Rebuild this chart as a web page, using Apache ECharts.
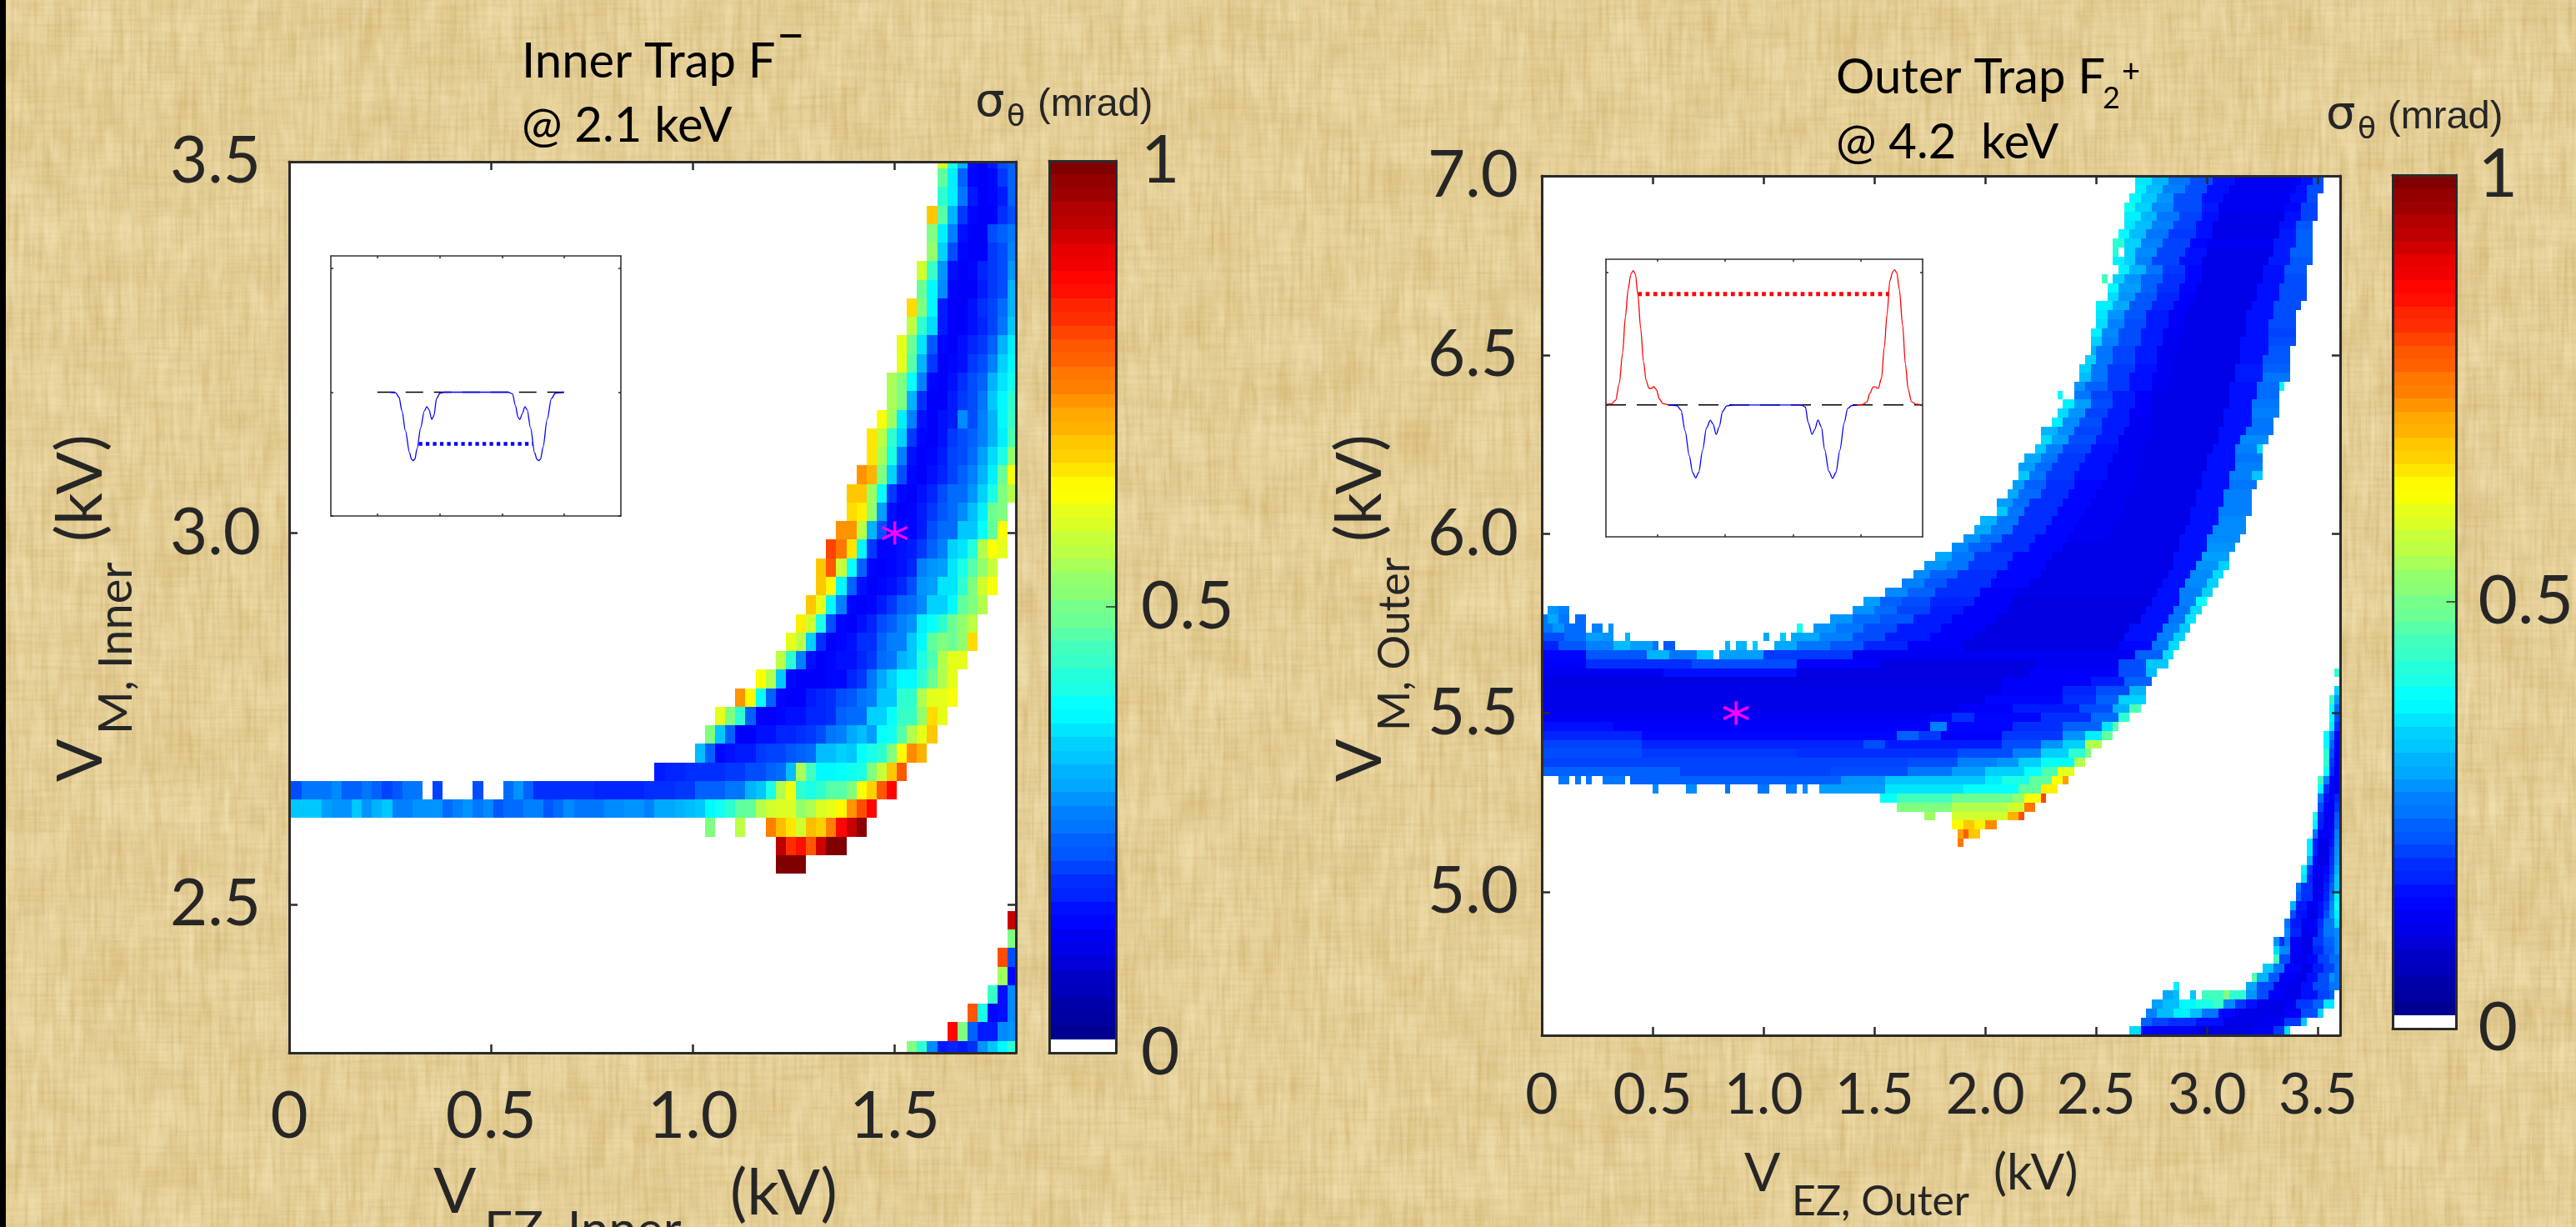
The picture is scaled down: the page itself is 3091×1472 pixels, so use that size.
<!DOCTYPE html>
<html><head><meta charset="utf-8">
<style>
html,body{margin:0;padding:0;width:3091px;height:1472px;overflow:hidden;background:#E8D49E}
#tex{position:absolute;left:0;top:0}
#strip{position:absolute;left:0;top:0;width:7px;height:1472px;background:#000}
#c{position:absolute;left:0;top:0;width:3091px;height:1472px}
</style>
<script src="https://cdn.jsdelivr.net/npm/echarts@6/dist/echarts.min.js"></script>
</head><body>
<svg id="tex" width="3091" height="1472" xmlns="http://www.w3.org/2000/svg">
 <defs>
  <filter id="fv" x="0" y="0" width="100%" height="100%" color-interpolation-filters="sRGB"><feTurbulence type="fractalNoise" baseFrequency="0.22 0.012" numOctaves="3" seed="4"/><feColorMatrix values="0 0 0 0 0.70  0 0 0 0 0.55  0 0 0 0 0.24  1.3 0 0 0 -0.50"/></filter>
  <filter id="fh" x="0" y="0" width="100%" height="100%" color-interpolation-filters="sRGB"><feTurbulence type="fractalNoise" baseFrequency="0.012 0.22" numOctaves="3" seed="9"/><feColorMatrix values="0 0 0 0 0.72  0 0 0 0 0.57  0 0 0 0 0.26  1.1 0 0 0 -0.44"/></filter>
  <filter id="fl" x="0" y="0" width="100%" height="100%" color-interpolation-filters="sRGB"><feTurbulence type="fractalNoise" baseFrequency="0.06 0.02" numOctaves="3" seed="15"/><feColorMatrix values="0 0 0 0 1  0 0 0 0 0.95  0 0 0 0 0.80  1.6 0 0 0 -0.62"/></filter>
  <filter id="fm" x="0" y="0" width="100%" height="100%" color-interpolation-filters="sRGB"><feTurbulence type="fractalNoise" baseFrequency="0.012 0.016" numOctaves="2" seed="23"/><feColorMatrix values="0 0 0 0 0.76  0 0 0 0 0.60  0 0 0 0 0.28  1.0 0 0 0 -0.38"/></filter>
 </defs>
 <rect width="3091" height="1472" filter="url(#fm)" opacity="0.35"/>
 <rect width="3091" height="1472" filter="url(#fv)" opacity="0.42"/>
 <rect width="3091" height="1472" filter="url(#fh)" opacity="0.30"/>
 <rect width="3091" height="1472" filter="url(#fl)" opacity="0.40"/>
</svg>
<div id="strip"></div>
<div id="c"></div>
<script>
// ---------- Data: sigma_theta in hundredths of a mrad ----------
// Inner map: [row, firstColumn, values...]; 0 = no beam
const innerRows = [
[0,64,58,40,30,13,12,15,20,22],
[1,64,47,36,22,13,12,13,18,22],
[2,64,42,36,24,15,12,13,15,22],
[3,63,68,46,30,18,13,12,12,17,20],
[4,63,50,36,25,14,12,12,20,22,24],
[5,63,52,33,20,13,12,12,18,20,25],
[6,62,58,43,27,14,12,13,16,18,20,27],
[7,62,48,37,26,13,12,12,15,18,20,30],
[8,61,66,50,37,15,12,12,14,17,19,23,30],
[9,61,56,42,34,15,12,12,14,16,19,24,32],
[10,60,60,48,35,21,13,12,14,16,18,22,30,36],
[11,60,60,46,30,18,12,13,14,18,20,25,33,37],
[12,59,54,50,38,25,13,12,14,17,20,22,30,35,39],
[13,59,54,50,30,17,12,12,15,18,20,24,32,37,42],
[14,58,62,53,36,25,14,12,14,15,26,20,25,30,37,43],
[15,57,65,56,42,33,18,13,12,14,18,20,22,25,30,36,45],
[16,57,65,54,40,25,14,12,13,15,19,20,23,28,34,40,52],
[17,56,73,70,50,33,20,13,12,14,16,19,22,25,30,36,48,62],
[18,55,68,68,53,38,18,13,12,14,16,20,23,23,27,33,40,50,55],
[19,55,66,64,52,28,14,12,13,15,18,21,23,26,31,36,48,50],
[20,54,73,73,56,30,20,14,13,13,15,20,23,23,32,32,38,47,62],
[21,53,81,76,65,37,18,13,13,14,15,18,22,25,33,35,41,55,62,60],
[22,52,68,79,57,38,22,13,12,13,14,16,25,27,28,35,40,46,52,57],
[23,52,68,63,37,22,14,12,13,14,16,20,27,28,35,35,42,50,58,62],
[24,51,68,60,37,25,13,12,13,15,18,22,23,26,33,33,37,47,50,55],
[25,50,64,58,40,20,13,12,14,16,20,22,25,27,36,38,42,48,52,56],
[26,49,60,56,33,17,12,13,14,17,17,22,25,25,32,37,47,50,48,52,66],
[27,48,56,42,25,14,12,13,14,14,16,18,23,24,30,32,40,45,55,60,60],
[28,46,62,55,32,13,12,12,12,13,13,16,18,24,29,33,37,37,42,48,55,60],
[29,44,73,63,38,22,13,12,12,15,16,17,20,21,24,25,32,32,42,42,55,60,60,62],
[30,42,60,50,42,22,12,12,13,14,14,16,16,17,22,23,23,33,33,38,43,43,52,66,60],
[31,41,50,32,22,12,12,14,14,16,16,17,18,20,24,25,29,31,28,38,39,46,55,60,68],
[32,40,31,22,13,14,15,15,18,19,19,21,22,23,31,31,33,32,38,40,42,50,63,74,70],
[33,36,15,16,16,17,17,17,17,18,18,20,20,22,23,31,54,44,37,37,38,39,40,50,57,68,79],
[34,-1,20,20,24,24,24,26,22,22,24,22,19,21,24,24,0,19,0,0,0,20,0,0,23,27,22,17,17,17,17,17,17,16,16,16,16,16,17,17,17,18,18,22,22,22,24,24,30,32,40,55,61,42,40,42,46,46,50,62,67,79,87],
[35,-1,32,32,32,32,28,27,27,32,27,30,32,25,25,27,27,27,23,25,27,24,26,21,23,23,25,25,21,23,26,24,24,24,26,26,27,27,25,29,29,30,31,32,37,39,42,47,47,55,58,59,59,52,54,59,60,63,73,80,87],
[36,41,50,0,0,56,0,0,75,69,65,58,69,67,75,87,93,99],
[37,48,94,83,86,79,92,100,100],
[38,48,100,100,100],
[41,71,93],
[42,71,50],
[43,70,80,20],
[44,70,53,13],
[45,69,43,14,26],
[46,67,79,40,13,14,26],
[47,65,87,50,22,15,15,26,27],
[48,61,50,42,26,15,16,15,17,27,32,37,42]
];
// Outer map, one list per row from the top: column, value, column, value, ... last column; 0 = no beam
const outerRows = [
[107,35,110,30,113,24,117,20,121,14,125,11,137,14,139,20,141],
[107,36,109,31,112,25,116,20,120,14,124,11,136,14,138,20,141],
[106,37,108,32,111,27,114,20,119,14,123,11,135,14,138,20,140],
[105,39,107,33,110,26,114,20,119,15,122,11,134,13,137,19,140],
[105,36,108,30,111,24,115,19,119,14,122,10,134,14,137,19,140],
[105,35,107,31,110,25,114,19,118,14,121,10,133,14,136,21,139],
[104,37,106,31,109,24,113,18,118,14,121,10,133,15,136,22,139],
[103,42,105,33,108,25,112,19,117,13,120,11,132,15,136,22,139],
[103,41,104,0,105,33,107,26,111,19,116,14,120,10,132,15,135,22,139],
[103,36,105,33,107,25,110,19,115,14,119,10,131,15,135,21,139],
[104,36,106,30,109,24,112,18,116,13,119,10,130,14,134,21,138],
[101,44,102,0,103,33,105,27,108,22,112,17,116,13,119,10,130,14,134,20,138],
[102,37,104,28,108,22,111,17,115,13,118,10,129,14,133,20,138],
[102,34,104,27,107,21,111,16,115,12,118,10,129,14,133,20,138],
[100,36,103,29,106,21,110,16,114,12,117,10,128,14,132,20,137],
[100,35,102,27,105,21,109,15,113,12,116,10,127,14,132,20,136],
[100,34,102,25,105,20,109,15,113,12,116,10,127,14,131,20,136],
[99,36,101,26,104,20,108,15,112,11,116,10,127,14,131,19,136],
[99,33,101,25,104,20,108,15,112,11,115,10,126,14,131,20,136],
[99,30,100,24,103,19,107,15,111,11,115,10,126,14,131,21,135],
[98,33,100,24,103,19,107,15,111,11,114,10,126,14,130,21,135],
[97,33,99,24,102,18,107,14,111,11,114,10,125,15,130,22,135],
[97,31,99,24,102,18,106,14,110,11,114,10,125,15,130,24,135],
[96,27,98,22,102,18,106,14,110,11,113,10,124,14,129,23,133,37,134],
[93,37,94,0,96,24,99,19,103,15,107,12,110,10,124,14,129,23,133],
[94,36,96,28,99,20,103,15,107,12,110,10,124,14,128,24,133],
[93,34,95,27,98,19,102,15,106,12,110,10,123,14,128,25,133],
[92,36,94,26,97,20,101,15,106,11,110,10,123,14,128,24,132],
[90,30,93,26,96,19,101,15,105,11,110,10,122,14,127,24,132],
[90,34,92,28,95,20,100,15,104,11,109,10,122,14,126,26,131],
[89,32,91,25,94,19,99,14,104,11,109,10,121,14,125,25,129,34,130],
[87,29,90,24,93,18,98,14,103,11,108,10,120,14,125,24,130],
[86,28,89,23,92,18,97,14,102,11,108,10,120,14,125,25,130],
[86,32,88,24,91,18,96,14,102,11,107,10,119,14,124,25,128,32,130],
[85,28,87,22,91,17,96,13,101,11,107,10,119,14,124,24,129],
[84,29,86,23,90,17,95,13,100,11,106,10,118,14,123,25,128],
[82,28,85,23,88,17,94,13,99,11,105,10,118,14,123,25,128],
[82,32,84,24,87,17,93,13,98,11,105,10,117,14,122,25,128],
[79,30,82,24,86,17,92,13,97,11,104,10,117,14,122,26,127],
[78,29,81,24,85,17,91,13,96,11,103,10,116,14,121,26,127],
[76,27,79,23,83,17,89,13,95,11,102,10,115,14,120,26,126],
[74,26,77,22,81,17,88,13,94,10,115,14,120,27,125],
[71,29,74,24,78,18,85,13,92,10,114,14,119,28,124],
[69,27,73,24,77,18,84,13,91,10,114,14,118,27,122,33,124],
[67,26,70,22,75,17,82,13,90,10,113,14,117,26,121,34,123],
[65,25,69,21,73,17,81,13,88,10,112,14,116,26,120,33,122],
[62,26,66,22,71,17,79,12,86,10,111,14,115,25,119,33,121],
[58,28,61,22,65,20,70,16,78,12,85,9,110,14,115,25,118,38,120],
[1,27,3,25,5,0,56,27,60,23,64,19,70,15,76,12,84,9,109,14,114,24,117,34,119],
[0,24,1,29,3,24,5,0,6,23,8,0,52,27,56,23,61,21,67,15,74,12,82,9,108,14,113,24,116,35,118],
[0,24,2,27,4,23,8,0,9,25,11,0,12,27,13,0,46,39,47,0,49,27,53,24,58,20,64,15,72,12,80,9,106,14,112,25,115,32,117],
[0,20,4,23,8,28,11,27,13,0,15,30,16,0,40,29,41,0,43,32,44,0,45,29,50,25,56,20,62,15,70,12,78,9,105,14,111,25,114,33,116],
[0,16,3,21,8,25,13,31,16,28,20,24,21,0,22,21,24,0,33,30,34,0,35,30,37,0,38,32,39,0,42,29,46,24,52,21,58,16,66,12,76,9,104,13,110,24,113,34,115],
[0,13,8,21,19,30,23,24,28,32,31,0,32,28,40,18,56,11,107,22,112,34,114],
[0,12,8,17,27,20,46,12,61,9,89,11,104,20,109,32,113],
[0,11,22,14,46,9,88,12,104,20,109,31,111,0,143,42,144],
[0,9,83,12,99,15,105,22,110],
[0,10,83,12,94,16,100,20,106,30,109,0,143,33,144],
[0,10,80,13,94,17,100,22,104,33,109,0,142,43,143,27,144],
[0,10,75,12,85,15,97,20,103,30,106,45,108,0,142,38,143,22,144],
[0,11,70,13,74,17,78,13,90,17,99,23,104,42,106,0,142,38,143,20,144],
[0,14,13,12,70,25,73,13,85,17,94,22,101,35,103,46,104,0,142,36,143,17,144],
[0,16,18,13,64,22,68,18,72,12,83,18,94,27,98,36,101,47,103,0,141,37,142,25,143,13,144],
[0,19,18,16,58,20,62,15,83,20,90,27,94,33,98,55,101,0,141,37,142,22,143,12,144],
[0,20,18,18,46,17,75,20,85,25,90,33,95,42,98,50,99,0,141,42,142,20,143,12,144],
[0,19,66,20,75,25,82,27,86,33,90,38,96,55,98,0,141,42,142,18,143,12,144],
[0,22,25,19,52,20,66,24,74,28,80,33,87,38,90,45,93,60,96,0,141,38,142,16,143,12,144],
[3,24,5,0,6,24,7,0,8,24,9,0,11,24,15,0,16,22,54,27,62,32,80,36,83,40,88,47,92,62,94,72,95,0,140,44,141,25,142,12,144],
[20,26,21,0,26,26,28,0,33,24,34,0,39,24,41,0,44,25,46,0,47,26,48,0,50,28,62,35,76,38,86,47,90,64,93,0,140,38,141,17,142,11,144],
[61,38,64,44,74,48,85,52,87,62,90,81,91,0,140,24,141,14,142,12,143,16,144],
[64,50,74,55,84,58,87,76,89,0,140,20,141,12,143,18,144],
[69,53,71,0,74,58,84,70,86,80,87,0,139,40,140,16,141,11,143,21,144],
[74,63,76,68,78,64,80,74,82,0,139,36,140,15,141,11,143,22,144],
[75,72,76,78,77,68,79,0,139,24,140,12,142,13,143,25,144],
[75,76,76,0,138,36,139,15,140,10,142,14,143,26,144],
[138,36,139,15,140,10,142,16,143,27,144],
[138,30,139,13,140,10,142,17,143,28,144],
[137,37,138,18,139,11,141,13,142,18,143,30,144],
[137,35,138,16,139,10,141,14,142,20,143,32,144],
[136,24,137,17,139,10,141,15,142,22,143,32,144],
[136,22,137,17,139,10,140,12,141,16,142,24,143,36,144],
[135,30,136,15,138,11,140,14,141,18,142,26,143,38,144],
[135,20,136,14,138,10,140,14,141,20,142,27,143,36,144],
[134,24,135,15,137,11,139,13,140,17,141,24,143,34,144],
[134,26,135,16,137,10,138,11,140,18,141,24,143,26,144],
[132,27,133,17,134,24,135,12,137,10,139,18,141,22,143,26,144],
[132,34,133,26,135,12,137,10,139,16,141,21,143,26,144],
[132,44,133,20,135,11,138,13,140,19,142,23,144],
[130,32,132,24,134,13,137,10,139,15,141,19,143,24,144],
[128,46,129,30,131,21,133,12,136,10,138,14,140,20,142,27,143,24,144],
[114,36,115,0,127,29,129,20,132,11,135,10,137,14,139,20,142,24,144],
[112,29,114,31,115,0,117,32,118,0,119,44,123,50,124,42,127,27,129,20,131,12,134,10,137,14,140,19,142,22,143],
[110,28,112,31,115,37,118,40,121,43,123,26,125,18,127,14,129,10,134,11,136,18,139,22,141,35,143],
[109,25,111,31,114,36,117,31,119,24,122,13,125,10,134,12,137,20,140,33,141],
[108,22,110,19,113,17,118,14,123,10,130,11,134,18,137,32,138],
[106,34,108,13,110,11,118,9,128,11,132,18,134,34,135]
];
const colorbarLevels = [0,2,3,5,6,8,10,11,13,14,16,17,19,21,22,24,25,27,29,30,32,33,35,37,38,40,41,43,44,46,48,49,51,52,54,56,57,59,60,62,63,65,67,68,70,71,73,75,76,78,79,81,83,84,86,87,89,90,92,94,95,97,98,100];
const innerStar = [[1.5,3.0]];
const outerStar = [[0.876,5.5]];
const innerXTicks = [0,0.5,1.0,1.5];
const innerYTicks = [2.5,3.0,3.5];
const outerXTicks = [0,0.5,1.0,1.5,2.0,2.5,3.0,3.5];
const outerYTicks = [5.0,5.5,6.0,6.5,7.0];
const barTickLabels = [0,0.5,1];
// Inset potentials (arbitrary axis units)
const inset1Blue = [[265,0],[285,-2],[297,-18],[308,-68],[320,-138],[335,-218],[342,-241],[348,-246],[354,-241],[362,-203],[375,-128],[388,-68],[397,-52],[405,-63],[415,-98],[423,-83],[432,-23],[445,-3],[460,0],[690,0],[705,-6],[716,-48],[725,-90],[732,-98],[740,-78],[750,-52],[758,-63],[770,-128],[785,-218],[793,-241],[799,-246],[806,-241],[815,-198],[830,-98],[845,-23],[860,-3],[891,0]];
const inset1Zero = [[219,0],[891,0]];
const inset1Well = [[368,-186],[780,-186]];
const inset2Red1 = [[80,2],[100,4],[115,17],[128,77],[140,187],[150,317],[160,417],[170,472],[178,484],[186,472],[195,397],[205,277],[215,157],[225,87],[235,60],[243,59],[252,66],[262,55],[272,22],[285,5],[305,0]];
const inset2Red2 = [[985,0],[1005,2],[1020,12],[1030,42],[1042,65],[1050,65],[1060,59],[1072,97],[1082,207],[1092,327],[1102,447],[1112,479],[1119,487],[1127,477],[1136,417],[1148,287],[1158,147],[1168,57],[1180,12],[1195,3],[1220,0]];
const inset2Blue = [[305,0],[335,-2],[350,-18],[365,-93],[380,-183],[392,-243],[403,-263],[414,-243],[428,-163],[442,-83],[456,-55],[465,-68],[477,-106],[488,-78],[500,-23],[515,-3],[540,0],[785,0],[798,-8],[808,-63],[822,-106],[832,-88],[843,-54],[855,-78],[868,-163],[882,-238],[896,-264],[908,-243],[922,-163],[938,-63],[950,-13],[965,-2],[985,0]];
const inset2Zero = [[80,0],[1220,0]];
const inset2Well = [[195,400],[1100,400]];

// ---------- Build cell tables for the library ----------
const innerCells = [];
innerRows.forEach(r => {
  const k = r[0], j0 = r[1];
  r.slice(2).forEach((v, i) => { if (v > 0) innerCells.push([(j0 + i + 0.7) * 0.025, 3.5035 - 0.025 * k, v / 100]); });
});
const outerCells = [];
outerRows.forEach((r, rowIdx) => {
  for (let p = 0; p + 2 < r.length; p += 2) {
    if (r[p + 1] === 0) continue;
    for (let c = r[p]; c < r[p + 2]; c++) outerCells.push([(c + 0.5) * 0.025, 7 - (rowIdx + 0.5) * 0.025, r[p + 1] / 100]);
  }
});
const barCells = colorbarLevels.map((v, i) => [0.5, (i + 1.5) / 65, v / 100]);

const jet = ['#000090','#0000ff','#0080ff','#00ffff','#80ff80','#ffff00','#ff8000','#ff0000','#800000'];
const ink = '#262626', tickFont = 'Lato';
const grids = [
  {left:347,top:194,width:872,height:1069},
  {left:1850,top:211,width:958,height:1031},
  {left:1259,top:193,width:80,height:1070},
  {left:2871,top:210,width:77,height:1024},
  {left:397,top:307,width:348,height:312},
  {left:1927,top:311,width:380,height:333}
].map(g => Object.assign(g,{show:true,backgroundColor:'#fff',borderWidth:0,containLabel:false}));

const xAxes = [], yAxes = [];
function axis(o){
  const showLab = !!o.labels;
  return {
    type:'value', gridIndex:o.g, position:o.pos, min:o.min, max:o.max, z:10, scale:false,
    splitLine:{show:false}, splitArea:{show:false}, minorTick:{show:false},
    axisLine:{show:true,onZero:false,lineStyle:{color:o.lc||'#2b2b2b',width:o.lw||3}},
    axisTick:{show:!!(o.ticks&&o.ticks.length),inside:true,length:o.tl||10,customValues:o.ticks||[],lineStyle:{color:'#2b2b2b',width:o.tw||2.5}},
    axisLabel:{show:showLab,customValues:o.labels||[],margin:o.margin||20,formatter:o.fmt,color:ink,fontFamily:tickFont,fontSize:o.fs||78,hideOverlap:false,showMinLabel:true,showMaxLabel:true}
  };
}
function addAxes(g,xr,yr,x,y){
  xAxes.push(axis(Object.assign({g,pos:'bottom',min:xr[0],max:xr[1]},x.bottom)));
  xAxes.push(axis(Object.assign({g,pos:'top',min:xr[0],max:xr[1]},x.top)));
  yAxes.push(axis(Object.assign({g,pos:'left',min:yr[0],max:yr[1]},y.left)));
  yAxes.push(axis(Object.assign({g,pos:'right',min:yr[0],max:yr[1]},y.right)));
}
const fmt1 = v => v === 0 ? '0' : Number(v).toFixed(1);
const fmtBar = v => String(Number(v));
addAxes(0,[0,1.8],[2.3,3.5],
  {bottom:{ticks:innerXTicks.slice(1),labels:innerXTicks,fmt:fmt1,margin:38},top:{ticks:innerXTicks.slice(1)}},
  {left:{ticks:innerYTicks,labels:innerYTicks,fmt:fmt1,margin:34},right:{ticks:innerYTicks}});
addAxes(1,[0,3.6],[4.6,7.0],
  {bottom:{ticks:outerXTicks.slice(1),labels:outerXTicks,fmt:fmt1,margin:38,fs:68},top:{ticks:outerXTicks.slice(1)}},
  {left:{ticks:outerYTicks,labels:outerYTicks,fmt:fmt1,margin:28},right:{ticks:outerYTicks}});
addAxes(2,[0,1],[0,1],{bottom:{},top:{}},{left:{},right:{ticks:[0.5],labels:barTickLabels,fmt:fmtBar,margin:30,tl:12,tw:1.5,fs:80}});
addAxes(3,[0,1],[0,1],{bottom:{},top:{}},{left:{},right:{ticks:[0.5],labels:barTickLabels,fmt:fmtBar,margin:26,tl:12,tw:1.5,fs:82}});
const ins = {lw:1.6,tl:3,tw:1.5,lc:'#333'};
addAxes(4,[52,1095],[-445,490],
  {bottom:Object.assign({ticks:[219,444,668,891]},ins),top:Object.assign({ticks:[219,444,668,891]},ins)},
  {left:Object.assign({ticks:[-445,0,447]},ins),right:Object.assign({ticks:[-445,0,447]},ins)});
addAxes(5,[80,1220],[-475,525],
  {bottom:Object.assign({ticks:[265,508,753,996]},ins),top:Object.assign({ticks:[265,508,753,996]},ins)},
  {left:Object.assign({ticks:[0,479]},ins),right:Object.assign({ticks:[0,479]},ins)});

function cellSeries(g,w,h,data){
  return {type:'custom',coordinateSystem:'cartesian2d',xAxisIndex:2*g,yAxisIndex:2*g,clip:true,silent:true,animation:false,progressive:0,
    encode:{x:0,y:1},data,
    renderItem:(p,api)=>{
      const x=api.value(0),y=api.value(1);
      const a=api.coord([x-w/2,y+h/2]),b=api.coord([x+w/2,y-h/2]);
      const l=Math.round(a[0]),t=Math.round(a[1]),r=Math.round(b[0]),bt=Math.round(b[1]);
      return {type:'rect',shape:{x:l,y:t,width:r-l,height:bt-t},style:{fill:api.visual('color')}};
    }};
}
function starSeries(g,data){
  return {type:'custom',coordinateSystem:'cartesian2d',xAxisIndex:2*g,yAxisIndex:2*g,silent:true,animation:false,z:8,encode:{x:0,y:1},data,
    renderItem:(p,api)=>{
      const c=api.coord([api.value(0),api.value(1)]);
      const st={stroke:'#ff00ff',lineWidth:3.4,fill:null};
      const ln=(dx,dy)=>({type:'line',shape:{x1:c[0]-dx,y1:c[1]-dy,x2:c[0]+dx,y2:c[1]+dy},style:st});
      return {type:'group',children:[ln(0,14),ln(15,7),ln(15,-7)]};
    }};
}
function lineSeries(g,data,color,width,type){
  return {type:'line',xAxisIndex:2*g,yAxisIndex:2*g,data,showSymbol:false,symbol:'none',silent:true,animation:false,smooth:type?false:0.3,smoothMonotone:'x',z:6,
    lineStyle:{color,width,type:type||'solid',cap:'butt'}};
}
const series = [
  cellSeries(0,0.025,0.025,innerCells),
  cellSeries(1,0.025,0.025,outerCells),
  cellSeries(2,1,1/65,barCells),
  cellSeries(3,1,1/65,barCells),
  starSeries(0,innerStar),
  starSeries(1,outerStar),
  lineSeries(4,inset1Zero,'#000',1.5,[21,13]),
  lineSeries(4,inset1Blue,'#0000ff',1.3),
  lineSeries(4,inset1Well,'#0000ff',4.6,[4.3,4.2]),
  lineSeries(5,inset2Zero,'#000',1.5,[24,13]),
  lineSeries(5,inset2Red1,'#ff0000',1.3),
  lineSeries(5,inset2Red2,'#ff0000',1.3),
  lineSeries(5,inset2Blue,'#0000ff',1.3),
  lineSeries(5,inset2Well,'#ff0000',5,[4.7,4.6])
];

function txt(text,x,y,fontSize,o){
  o=o||{};
  return {type:'text',x,y,rotation:o.rot||0,z:20,silent:true,style:{text,fontSize,fontFamily:o.font||'Lato',fill:o.fill||ink,
    textAlign:o.align||'left',textVerticalAlign:'middle',fontWeight:o.w||'normal'}};
}
const UP=Math.PI/2, B={fill:'#000',w:400}, S={font:'Liberation Sans'};
const graphics=[
  txt('Inner Trap F',626,74,58,B), txt('\u2212',932,44,58,B), txt('@ 2.1 keV',626,151,58,B),
  txt('Outer Trap F',2203,93,58,B), txt('2',2523,118,36,B), txt('+',2546,86,38,B), txt('@ 4.2  keV',2203,171,58,B),
  txt('\u03c3',1170,124,56,{font:'DejaVu Sans'}), txt('\u03b8',1208,142,36,{font:'DejaVu Sans'}), txt('(mrad)',1245,126,47,S),
  txt('\u03c3',2791,139,56,{font:'DejaVu Sans'}), txt('\u03b8',2829,157,36,{font:'DejaVu Sans'}), txt('(mrad)',2865,141,47,S),
  txt('V',97,938,76,{rot:UP}), txt('M, Inner',140,881,56,{rot:UP}), txt('(kV)',97,650,76,{rot:UP}),
  txt('V',1632,938,76,{rot:UP}), txt('M, Outer',1674,877,52,{rot:UP}), txt('(kV)',1632,650,76,{rot:UP}),
  txt('V',520,1430,76), txt('EZ, Inner',581,1477,60), txt('(kV)',876,1432,76),
  txt('V',2093,1408,64), txt('EZ, Outer',2150,1442,50), txt('(kV)',2392,1408,60)
];

const chart = echarts.init(document.getElementById('c'),null,{renderer:'canvas',width:3091,height:1472});
chart.setOption({
  backgroundColor:'transparent',animation:false,
  grid:grids,xAxis:xAxes,yAxis:yAxes,
  visualMap:{show:false,type:'continuous',min:0,max:1,dimension:2,seriesIndex:[0,1,2,3],inRange:{color:jet}},
  series,graphic:{elements:graphics}
});
</script></body></html>
